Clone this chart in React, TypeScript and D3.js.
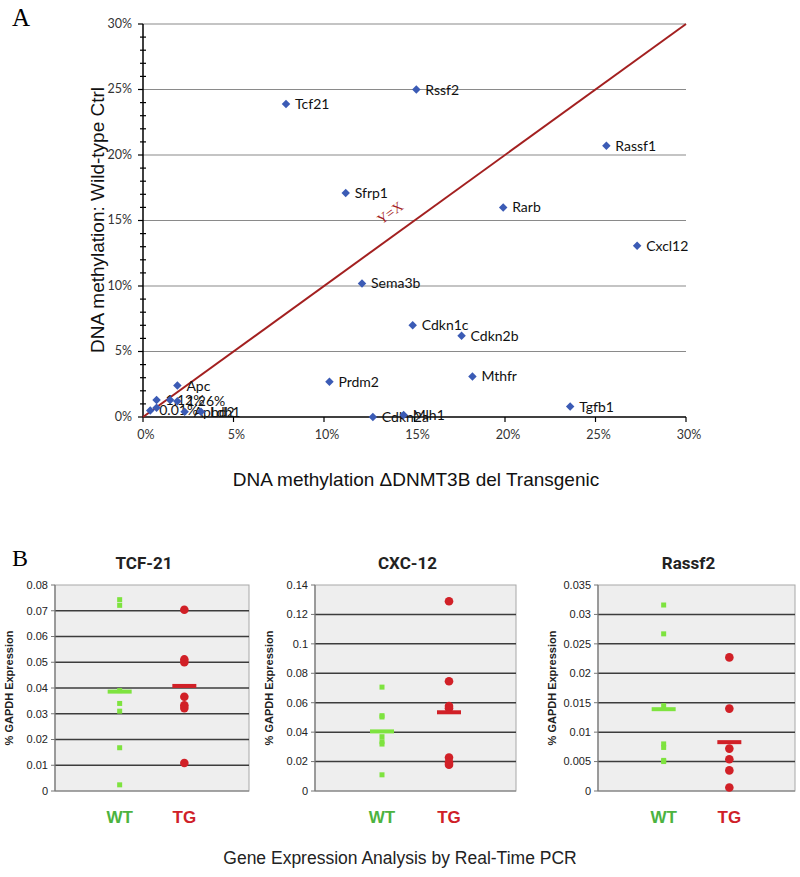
import React from "react";
import * as d3 from "d3";

// ---------- Panel A data ----------
const geneNames = ["Tcf21", "Rssf2", "Rassf1", "Sfrp1", "Rarb", "Cxcl12", "Sema3b", "Cdkn1c", "Cdkn2b", "Mthfr", "Prdm2", "Tgfb1", "Cdkn2a", "Mlh1", "Apc", "1.12%", "1.26%", "", "0.01%", "", "Aphd2", "Ldh1"];
const transgenicPct = [7.9, 15.1, 25.6, 11.2, 19.9, 27.3, 12.1, 14.9, 17.6, 18.2, 10.3, 23.6, 12.7, 14.4, 1.9, 0.75, 1.9, 1.5, 0.4, 0.75, 2.3, 3.2];
const wildTypePct = [23.9, 25.0, 20.7, 17.1, 16.0, 13.07, 10.2, 7.0, 6.2, 3.1, 2.7, 0.8, 0.0, 0.15, 2.4, 1.3, 1.2, 1.3, 0.5, 0.7, 0.4, 0.4];
const pctTicks = [0, 5, 10, 15, 20, 25, 30];

// ---------- Panel B data ----------
const exprTitles = ["TCF-21", "CXC-12", "Rassf2"];
const exprMax = [0.08, 0.14, 0.035];
const exprStep = [0.01, 0.02, 0.005];
const exprTickLabels = [
  ["0", "0.01", "0.02", "0.03", "0.04", "0.05", "0.06", "0.07", "0.08"],
  ["0", "0.02", "0.04", "0.06", "0.08", "0.1", "0.12", "0.14"],
  ["0", "0.005", "0.01", "0.015", "0.02", "0.025", "0.03", "0.035"],
];
const wtValues = [
  [0.0743, 0.0721, 0.039, 0.034, 0.031, 0.0168, 0.0024],
  [0.0706, 0.0512, 0.0503, 0.0369, 0.0335, 0.0319, 0.011],
  [0.0316, 0.0267, 0.0145, 0.008, 0.0074, 0.0052, 0.005],
];
const tgValues = [
  [0.0704, 0.0511, 0.05, 0.0366, 0.0333, 0.0322, 0.0109],
  [0.129, 0.0746, 0.0578, 0.0562, 0.0228, 0.0195, 0.0178],
  [0.0227, 0.014, 0.0072, 0.0054, 0.0035, 0.0006],
];
const wtMeans = [0.0386, 0.0405, 0.0139];
const tgMeans = [0.0408, 0.0535, 0.0083];
const groupNames = ["WT", "TG"];

const panelLeft = [55, 315, 598];
const panelRight = [249, 516, 795];

function PanelA() {
  const x = d3.scaleLinear().domain([0, 30]).range([143, 686]);
  const y = d3.scaleLinear().domain([0, 30]).range([417, 24]);
  const minor = d3.range(0, 31, 1);
  const diamond = d3.symbol().type(d3.symbolDiamond2).size(46)() as string;
  const angle = (-Math.atan2(y(0) - y(30), x(30) - x(0)) * 180) / Math.PI;
  return (
    <g>
      <text x={12} y={26} fontFamily="'Liberation Serif', serif" fontSize={25}>A</text>
      {pctTicks.filter((t) => t > 0).map((t) => (
        <line key={"g" + t} x1={x(0)} x2={x(30)} y1={y(t)} y2={y(t)} stroke="#8a8a8a" strokeWidth={1.2} />
      ))}
      {minor.map((t) => (
        <line key={"m" + t} x1={x(0) - (t % 5 === 0 ? 5 : 3)} x2={x(0) + (t % 5 === 0 ? 0 : 3)} y1={y(t)} y2={y(t)} stroke="#000" strokeWidth={1.2} />
      ))}
      <line x1={x(0)} x2={x(0)} y1={y(0)} y2={y(30)} stroke="#000" strokeWidth={1.5} />
      <line x1={x(0)} x2={x(30)} y1={y(0)} y2={y(0)} stroke="#000" strokeWidth={1.5} />
      {pctTicks.map((t) => (
        <line key={"xt" + t} x1={x(t)} x2={x(t)} y1={y(0)} y2={y(0) + 5} stroke="#000" strokeWidth={1.2} />
      ))}
      {pctTicks.map((t) => (
        <text key={"yl" + t} x={x(0) - 11} y={y(t)} dy="0.3em" textAnchor="end" fontFamily="Lato, sans-serif" fontSize={12.5} fill="#333">{t}%</text>
      ))}
      {pctTicks.map((t) => (
        <text key={"xl" + t} x={x(t) + 3} y={y(0) + 22} textAnchor="middle" fontFamily="Lato, sans-serif" fontSize={12.5} fill="#333">{t}%</text>
      ))}
      <line x1={x(0)} y1={y(0)} x2={x(30)} y2={y(30)} stroke="#a32020" strokeWidth={2} />
      <text transform={`translate(${x(13.8)},${y(15.3)}) rotate(${angle})`} textAnchor="middle" fontFamily="'Liberation Serif', serif" fontSize={14} fill="#a32020">Y=X</text>
      {geneNames.map((g, i) => (
        <g key={"p" + i}>
          <path d={diamond} transform={`translate(${x(transgenicPct[i])},${y(wildTypePct[i])})`} fill="#3b5bb5" />
          {g && (
            <text x={x(transgenicPct[i]) + 9} y={y(wildTypePct[i])} dy="0.36em" fontFamily="Lato, 'Open Sans', sans-serif" fontSize={14} fill="#111">{g}</text>
          )}
        </g>
      ))}
      <text transform={`translate(${104},${220}) rotate(-90)`} textAnchor="middle" fontFamily="'Liberation Sans', Arial, sans-serif" fontSize={19} fill="#111">DNA methylation: Wild-type Ctrl</text>
      <text x={416} y={486} textAnchor="middle" fontFamily="'Liberation Sans', Arial, sans-serif" fontSize={19} fill="#111">DNA methylation ΔDNMT3B del Transgenic</text>
    </g>
  );
}

function ExprPanel({ k }: { k: number }) {
  const left = panelLeft[k];
  const right = panelRight[k];
  const top = 585;
  const bottom = 791;
  const y = d3.scaleLinear().domain([0, exprMax[k]]).range([bottom, top]);
  const xs = d3.scaleLinear().domain([0, 3]).range([left, right]);
  const ticks = exprTickLabels[k].map((_, i) => i * exprStep[k]);
  const wtX = xs(1);
  const tgX = xs(2);
  return (
    <g>
      <text x={(left + right) / 2 - 8} y={569} textAnchor="middle" fontFamily="'Liberation Sans Narrow', 'Roboto', sans-serif" fontWeight="bold" fontSize={17} fill="#222">{exprTitles[k]}</text>
      <rect x={left} y={top} width={right - left} height={bottom - top} fill="#eeeeee" stroke="#a8a8a8" strokeWidth={1} />
      {ticks.slice(1, -1).map((t, i) => (
        <line key={"g" + i} x1={left} x2={right} y1={y(t)} y2={y(t)} stroke="#3c3c3c" strokeWidth={1.5} />
      ))}
      <line x1={left} x2={left} y1={top} y2={bottom} stroke="#777" strokeWidth={1.2} />
      <line x1={left} x2={right} y1={bottom} y2={bottom} stroke="#777" strokeWidth={1.2} />
      {ticks.map((t, i) => (
        <g key={"t" + i}>
          <line x1={left - 4} x2={left} y1={y(t)} y2={y(t)} stroke="#777" strokeWidth={1} />
          <text x={left - 7} y={y(t)} dy="0.35em" textAnchor="end" fontFamily="'Liberation Sans', Arial, sans-serif" fontSize={11} fill="#222">{exprTickLabels[k][i]}</text>
        </g>
      ))}
      <text transform={`translate(${left - 42},${(top + bottom) / 2}) rotate(-90)`} textAnchor="middle" fontFamily="'Liberation Sans', Arial, sans-serif" fontWeight="bold" fontSize={11} fill="#222">% GAPDH Expression</text>
      {wtValues[k].map((v, i) => (
        <rect key={"w" + i} x={wtX - 2.5} y={y(v) - 2.5} width={5} height={5} fill="#7ee33f" />
      ))}
      <rect x={wtX - 12} y={y(wtMeans[k]) - 2} width={24} height={4} fill="#7ee33f" />
      {tgValues[k].map((v, i) => (
        <circle key={"r" + i} cx={tgX} cy={y(v)} r={4.3} fill="#d12027" />
      ))}
      <rect x={tgX - 12} y={y(tgMeans[k]) - 2} width={24} height={4} fill="#d12027" />
      <text x={wtX} y={823} textAnchor="middle" fontFamily="'Liberation Sans', Arial, sans-serif" fontWeight="bold" fontSize={17} fill="#4cb340">{groupNames[0]}</text>
      <text x={tgX} y={823} textAnchor="middle" fontFamily="'Liberation Sans', Arial, sans-serif" fontWeight="bold" fontSize={17} fill="#cf2027">{groupNames[1]}</text>
    </g>
  );
}

export default function App() {
  return (
    <svg width={800} height={877} style={{ position: "absolute", left: 0, top: 0, background: "#fff" }}>
      <rect width={800} height={877} fill="#fff" />
      <PanelA />
      <text x={12} y={566} fontFamily="'Liberation Serif', serif" fontSize={24}>B</text>
      {exprTitles.map((_, k) => (
        <ExprPanel key={k} k={k} />
      ))}
      <text x={400} y={864} textAnchor="middle" fontFamily="'Liberation Sans', Arial, sans-serif" fontSize={17.5} fill="#222">Gene Expression Analysis by Real-Time PCR</text>
    </svg>
  );
}
